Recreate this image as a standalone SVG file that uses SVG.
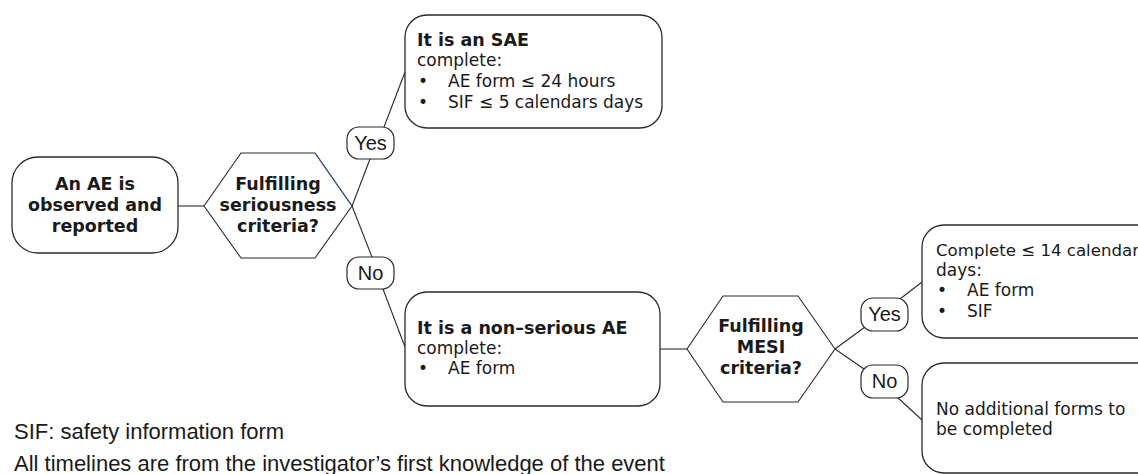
<svg xmlns="http://www.w3.org/2000/svg" width="1138" height="474" viewBox="0 0 1138 474">
<style>
.box{fill:#fff;stroke:#2a2a2a;stroke-width:1.3}
.hex{fill:#fff;stroke:#2a2a2a;stroke-width:1.1}
.pill{fill:#fff;stroke:#2a2a2a;stroke-width:1.2}
.con{stroke:#2a2a2a;stroke-width:1.1;fill:none}
.b{font-family:"DejaVu Sans",Verdana,sans-serif;font-weight:bold;font-size:17.5px;fill:#1a1a1a}
.t{font-family:"DejaVu Sans",Verdana,sans-serif;font-size:17px;fill:#1a1a1a}
.p{font-family:"Liberation Sans",Arial,sans-serif;font-size:20px;fill:#1a1a1a}
.f{font-family:"Liberation Sans",Arial,sans-serif;font-size:22px;fill:#1a1a1a}
</style>
<rect width="1138" height="474" fill="#fff"/>
<g id="connectors">
<line class="con" x1="178" y1="206" x2="204" y2="206"/>
<line class="con" x1="352" y1="206" x2="370" y2="159"/>
<line class="con" x1="352" y1="206" x2="372" y2="257"/>
<line class="con" x1="384" y1="127" x2="405" y2="72"/>
<line class="con" x1="383" y1="289" x2="405" y2="347"/>
<line class="con" x1="660" y1="349" x2="687" y2="349"/>
<line class="con" x1="835" y1="349" x2="865" y2="327"/>
<line class="con" x1="835" y1="349" x2="864" y2="369"/>
<line class="con" x1="900" y1="299" x2="922" y2="282"/>
<line class="con" x1="897" y1="397" x2="922" y2="420"/>
</g>
<g id="node-ae">
<rect class="box" x="12" y="157" width="166" height="96" rx="26"/>
<text class="b" text-anchor="middle"><tspan x="95" y="190">An AE is</tspan><tspan x="95" y="211">observed and</tspan><tspan x="95" y="232">reported</tspan></text>
</g>
<g id="node-seriousness">
<polygon class="hex" points="204,206 241,153 315,153 352,206 315,258 241,258"/>
<line x1="315" y1="153" x2="352" y2="206" stroke="#3f5c9c" stroke-width="1.2"/>
<text class="b" text-anchor="middle"><tspan x="278" y="190">Fulfilling</tspan><tspan x="278" y="211">seriousness</tspan><tspan x="278" y="232">criteria?</tspan></text>
</g>
<g id="label-yes1">
<rect class="pill" x="347" y="127" width="47" height="32" rx="12"/>
<text class="p" x="370.5" y="150" text-anchor="middle">Yes</text>
</g>
<g id="label-no1">
<rect class="pill" x="347" y="257" width="47" height="32" rx="12"/>
<text class="p" x="370.5" y="280" text-anchor="middle">No</text>
</g>
<g id="node-sae">
<rect class="box" x="405" y="15" width="257" height="113" rx="22"/>
<text class="b" x="417" y="46">It is an SAE</text>
<text class="t" x="417" y="66">complete:</text>
<text class="t" x="418" y="87">•</text>
<text class="t" x="448" y="87">AE form ≤ 24 hours</text>
<text class="t" x="418" y="108">•</text>
<text class="t" x="448" y="108">SIF ≤ 5 calendars days</text>
</g>
<g id="node-nonserious">
<rect class="box" x="405" y="292" width="255" height="114" rx="22"/>
<text class="b" x="417" y="334">It is a non–serious AE</text>
<text class="t" x="417" y="354">complete:</text>
<text class="t" x="418" y="374">•</text>
<text class="t" x="448" y="374">AE form</text>
</g>
<g id="node-mesi">
<polygon class="hex" points="687,349 723,296 798,296 835,349 798,402 723,402"/>
<text class="b" text-anchor="middle"><tspan x="761" y="332">Fulfilling</tspan><tspan x="761" y="353">MESI</tspan><tspan x="761" y="374">criteria?</tspan></text>
</g>
<g id="label-yes2">
<rect class="pill" x="861" y="298" width="47" height="33" rx="12"/>
<text class="p" x="884.5" y="321" text-anchor="middle">Yes</text>
</g>
<g id="label-no2">
<rect class="pill" x="861" y="365" width="47" height="33" rx="12"/>
<text class="p" x="884.5" y="388" text-anchor="middle">No</text>
</g>
<g id="node-complete14">
<rect class="box" x="922" y="225" width="260" height="113" rx="22"/>
<text class="t" x="936" y="256" style="font-size:16.6px">Complete ≤ 14 calendar</text>
<text class="t" x="936" y="276">days:</text>
<text class="t" x="937" y="296">•</text>
<text class="t" x="967" y="296">AE form</text>
<text class="t" x="937" y="317">•</text>
<text class="t" x="967" y="317">SIF</text>
</g>
<g id="node-noforms">
<rect class="box" x="922" y="363" width="260" height="110" rx="22"/>
<text class="t" x="936" y="415">No additional forms to</text>
<text class="t" x="936" y="435">be completed</text>
</g>
<g id="footnotes">
<text class="f" x="14" y="439">SIF: safety information form</text>
<text class="f" x="14" y="471">All timelines are from the investigator’s first knowledge of the event</text>
</g>
</svg>
